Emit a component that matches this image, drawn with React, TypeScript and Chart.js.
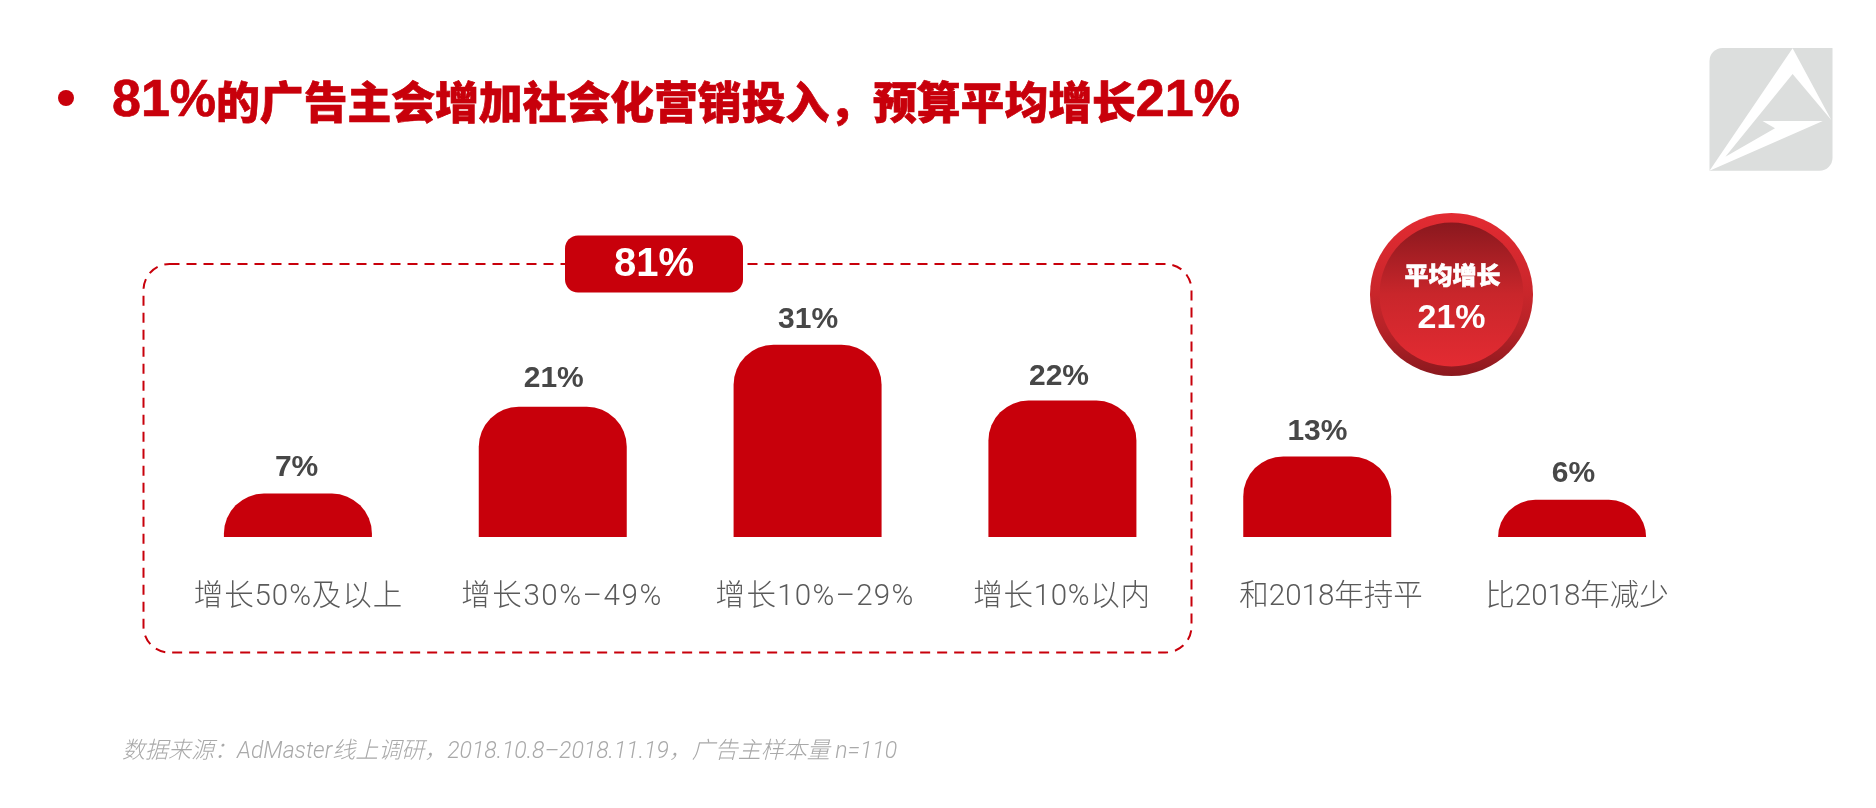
import { useEffect, useRef } from "react";
import { Chart, registerables } from "chart.js";

Chart.register(...registerables);

const categories = ["增长50%及以上", "增长30%–49%", "增长10%–29%", "增长10%以内", "和2018年持平", "比2018年减少"];
const shares = [7, 21, 31, 22, 13, 6];

// the labels in the slide are not quite centred on their bars
const categoryShift = [0.5, 9.3, 7.5, -0.4, 13.8, 5];
const categorySpacing = [0.9, 1.6, 1.3, 0.7, 0, 0];
const valueShift = [-1.3, 1, 0.5, -3.4, 0.2, 1.3];
const valueLift = [25.5, 28.5, 25, 23.5, 24.5, 26.5];

const titleParts = ["81%", "的广告主会增加社会化营销投入，预算平均增长", "21%"];
const groupText = "81%";
const avgLabel = "平均增长";
const avgValue = "21%";
const sourceText = "数据来源：AdMaster线上调研，2018.10.8–2018.11.19，广告主样本量 n=110";

const RED = "#c8000b";
const CJK = '"Noto Sans CJK SC"';
const BAR_RADIUS = 40;

const overlay = {
  id: "overlay",
  // Chart.js limits the corner radius to half the bar height, the short bars here are full domes
  beforeDatasetDraw(chart: Chart) {
    const { ctx } = chart;
    ctx.save();
    ctx.fillStyle = RED;
    chart.getDatasetMeta(0).data.forEach((bar: any) => {
      const { x, y, base, width } = bar.getProps(["x", "y", "base", "width"]);
      ctx.beginPath();
      ctx.roundRect(x - width / 2, y, width, base - y, [BAR_RADIUS, BAR_RADIUS, 0, 0]);
      ctx.fill();
    });
    ctx.restore();
    return false;
  },
  afterDatasetsDraw(chart: Chart) {
    const { ctx, scales } = chart;
    const bars = chart.getDatasetMeta(0).data;
    ctx.save();
    ctx.textBaseline = "middle";

    // value labels + category labels
    ctx.textAlign = "center";
    bars.forEach((bar: any, i: number) => {
      ctx.fillStyle = "#474747";
      ctx.font = `bold 30px "Liberation Sans", ${CJK}`;
      ctx.fillText(shares[i] + "%", bar.x + valueShift[i], bar.y - valueLift[i]);
      ctx.fillStyle = "#5a5a5a";
      ctx.font = `300 29.5px Roboto, ${CJK}`;
      ctx.letterSpacing = categorySpacing[i] + "px";
      ctx.fillText(categories[i], scales.x.getPixelForValue(i) + categoryShift[i], 598);
      ctx.letterSpacing = "0px";
    });

    // headline: the latin runs are set larger than the chinese, and heavier than bold
    ctx.textAlign = "left";
    ctx.fillStyle = RED;
    ctx.strokeStyle = RED;
    ctx.lineWidth = 0.7;
    ctx.beginPath();
    ctx.arc(66, 98, 8, 0, Math.PI * 2);
    ctx.fill();
    const latinFont = 'bold 52px "Liberation Sans"';
    const cjkFont = `900 43.8px ${CJK}`;
    let titleX = 112;
    titleParts.forEach((part, i) => {
      ctx.font = i === 1 ? cjkFont : latinFont;
      ctx.fillText(part, titleX, 102);
      ctx.strokeText(part, titleX, 102);
      titleX += ctx.measureText(part).width;
    });

    // dashed group box and its pill
    ctx.lineWidth = 2;
    ctx.setLineDash([10, 7]);
    ctx.beginPath();
    ctx.roundRect(143.5, 264, 1048, 388.5, 26);
    ctx.stroke();
    ctx.setLineDash([]);
    ctx.beginPath();
    ctx.roundRect(565, 235.5, 178, 57, 13);
    ctx.fill();
    ctx.fillStyle = "#fff";
    ctx.textAlign = "center";
    ctx.font = `bold 40px "Liberation Sans", ${CJK}`;
    ctx.fillText(groupText, 654, 265);

    // average badge
    const cx = 1451.5;
    const cy = 294.5;
    const outer = ctx.createLinearGradient(0, cy - 82, 0, cy + 82);
    outer.addColorStop(0, "#e32b32");
    outer.addColorStop(0.5, "#c9262b");
    outer.addColorStop(0.72, "#b52227");
    outer.addColorStop(1, "#8a181e");
    ctx.fillStyle = outer;
    ctx.beginPath();
    ctx.arc(cx, cy, 81.5, 0, Math.PI * 2);
    ctx.fill();
    const inner = ctx.createLinearGradient(0, cy - 72, 0, cy + 72);
    inner.addColorStop(0, "#8a181e");
    inner.addColorStop(0.5, "#c9262b");
    inner.addColorStop(1, "#e32b32");
    ctx.fillStyle = inner;
    ctx.beginPath();
    ctx.arc(cx, cy, 72, 0, Math.PI * 2);
    ctx.fill();
    ctx.fillStyle = "#fff";
    ctx.strokeStyle = "#fff";
    ctx.lineWidth = 0.6;
    ctx.font = `900 24px ${CJK}`;
    ctx.fillText(avgLabel, cx + 1, 275);
    ctx.strokeText(avgLabel, cx + 1, 275);
    ctx.font = `bold 34px "Liberation Sans", ${CJK}`;
    ctx.fillText(avgValue, cx, 319);

    // logo in the corner
    ctx.fillStyle = "#dcdedd";
    ctx.beginPath();
    ctx.roundRect(1709.5, 48, 123, 122.7, [13, 0, 13, 0]);
    ctx.fill();
    ctx.fillStyle = "#fff";
    ctx.beginPath();
    ctx.moveTo(1792.6, 48.3);
    ctx.lineTo(1831.3, 120);
    ctx.lineTo(1792.6, 74);
    ctx.lineTo(1725.4, 156.7);
    ctx.lineTo(1775, 128.3);
    ctx.lineTo(1762.5, 121);
    ctx.lineTo(1822.8, 121);
    ctx.lineTo(1709.5, 170.7);
    ctx.closePath();
    ctx.fill();

    // source note
    ctx.textAlign = "left";
    ctx.fillStyle = "#a9a9a9";
    ctx.font = `italic 300 23px Roboto, ${CJK}`;
    ctx.fillText(sourceText, 122, 752.5);
    ctx.restore();
  },
};

export default function App() {
  const canvasRef = useRef<HTMLCanvasElement | null>(null);

  useEffect(() => {
    if (!canvasRef.current) return;
    const chart = new Chart(canvasRef.current, {
      type: "bar",
      data: {
        labels: categories,
        datasets: [
          {
            data: shares,
            backgroundColor: RED,
            barThickness: 148,
          },
        ],
      },
      options: {
        animation: false,
        responsive: false,
        devicePixelRatio: 1,
        layout: { padding: { left: 170.5, right: 176.5, top: 41, bottom: 271 } },
        plugins: { legend: { display: false }, tooltip: { enabled: false }, title: { display: false } },
        scales: {
          x: { display: false },
          y: { display: false, min: 0, max: 80 },
        },
      },
      plugins: [overlay],
    });
    return () => chart.destroy();
  }, []);

  return (
    <canvas
      ref={canvasRef}
      width={1876}
      height={808}
      style={{ position: "absolute", left: 0, top: 0, display: "block" }}
    />
  );
}
